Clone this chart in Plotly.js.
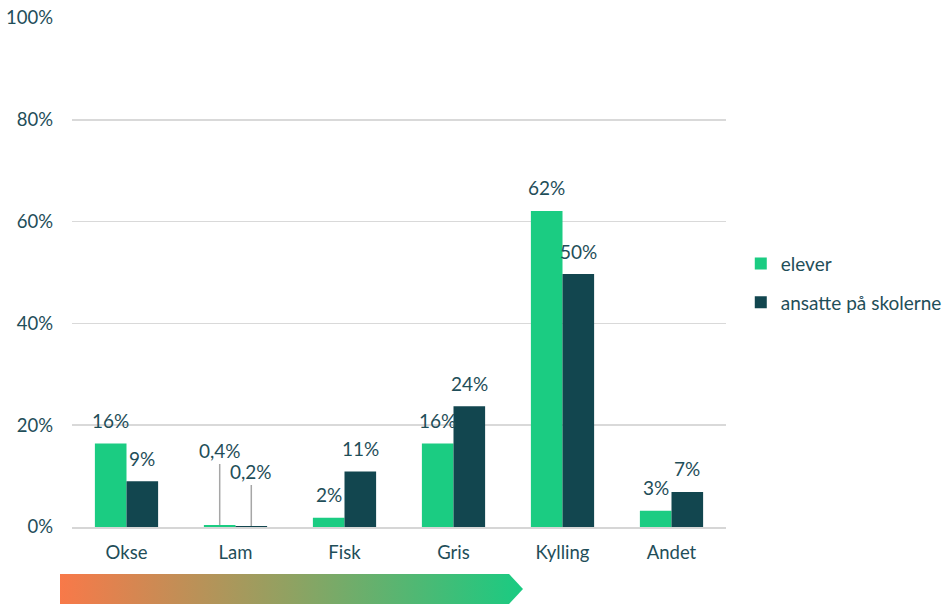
<!DOCTYPE html>
<html>
<head>
<meta charset="utf-8">
<script src="https://cdn.plot.ly/plotly-3.0.1.min.js"></script>
<style>html,body{margin:0;padding:0;background:#fff}#chart{width:942px;height:604px}</style>
</head>
<body>
<div id="chart"></div>
<script>
const categories = ["Okse", "Lam", "Fisk", "Gris", "Kylling", "Andet"];
const eleverValues = [16.4, 0.4, 1.8, 16.4, 62.1, 3.2];
const ansatteValues = [9.0, 0.2, 10.9, 23.7, 49.7, 6.9];
const eleverLabels = ["16%", "0,4%", "2%", "16%", "62%", "3%"];
const ansatteLabels = ["9%", "0,2%", "11%", "24%", "50%", "7%"];
const seriesNames = ["elever", "ansatte på skolerne"];
const yTickVals = [0, 20, 40, 60, 80, 100];
const yTickText = ["0%", "20%", "40%", "60%", "80%", "100%"];
const leaderCategories = ["Lam"];

const GREEN = "#1bcc82";
const DARK = "#12464f";
const TEXT = "#1f4e59";
const FONT = "Lato, 'Open Sans', sans-serif";
const LSIZE = 19;

const traces = [
  {type: "bar", name: seriesNames[0], legendgroup: "a", x: categories, y: eleverValues, marker: {color: GREEN}, hoverinfo: "none"},
  {type: "bar", name: seriesNames[1], legendgroup: "b", x: categories, y: ansatteValues, marker: {color: DARK}, hoverinfo: "none"}
];

const shift = 15.8;
const annotations = [];
[[eleverValues, eleverLabels, -shift, -74], [ansatteValues, ansatteLabels, shift, -54]].forEach(([vals, labs, xs, ay]) => {
  categories.forEach((c, i) => {
    if (leaderCategories.includes(c)) {
      annotations.push({x: c, y: vals[i], xref: "x", yref: "y", xshift: xs, text: labs[i],
        showarrow: true, arrowhead: 0, arrowwidth: 1.5, arrowcolor: "#a6a6a6", ax: 0, ay: ay,
        font: {family: FONT, size: LSIZE, color: TEXT}});
    } else {
      annotations.push({x: c, y: vals[i], xref: "x", yref: "y", xshift: xs, yshift: 23, yanchor: "middle",
        text: labs[i], showarrow: false, font: {family: FONT, size: LSIZE, color: TEXT}});
    }
  });
});

const arrowSvg = '<svg xmlns="http://www.w3.org/2000/svg" width="463" height="30" viewBox="0 0 463 30" preserveAspectRatio="none">' +
  '<defs><linearGradient id="g" x1="0" y1="0" x2="1" y2="0">' +
  '<stop offset="0" stop-color="#f87949"/><stop offset="0.5" stop-color="#8fa262"/><stop offset="1" stop-color="#19cb82"/></linearGradient></defs>' +
  '<polygon points="0,0 449,0 463,15 449,30 0,30" fill="url(#g)"/></svg>';

const layout = {
  width: 942, height: 604,
  margin: {l: 72, r: 216, t: 18, b: 77, autoexpand: false},
  paper_bgcolor: "#fff", plot_bgcolor: "#fff",
  barmode: "group", bargap: 0.42, bargroupgap: 0,
  font: {family: FONT, size: 18.5, color: TEXT},
  showlegend: true,
  legend: {x: 1.0226, y: 0.479, xanchor: "left", yanchor: "middle", font: {family: FONT, size: LSIZE, color: TEXT},
    tracegroupgap: 11, itemwidth: 30, bgcolor: "rgba(0,0,0,0)"},
  xaxis: {type: "category", showgrid: false, showline: true, linecolor: "#d6d6d6", linewidth: 1.5,
    ticks: "", tickfont: {family: FONT, size: 18.5, color: TEXT}, ticklabelstandoff: 8, fixedrange: true},
  yaxis: {range: [0, 100], tickvals: yTickVals, ticktext: yTickText, showgrid: true, gridcolor: "#d9d9d9", gridwidth: 1.5,
    zeroline: false, showline: false, ticks: "", tickfont: {family: FONT, size: 18.5, color: TEXT}, ticklabelstandoff: 18, fixedrange: true},
  annotations: annotations,
  images: [{source: "data:image/svg+xml;charset=utf-8," + encodeURIComponent(arrowSvg),
    xref: "paper", yref: "paper", x: -0.01835, y: -0.0923, sizex: 0.708, sizey: 0.059,
    xanchor: "left", yanchor: "top", sizing: "stretch", layer: "above"}]
};

Plotly.newPlot("chart", traces, layout, {displayModeBar: false, staticPlot: true});
</script>
</body>
</html>
